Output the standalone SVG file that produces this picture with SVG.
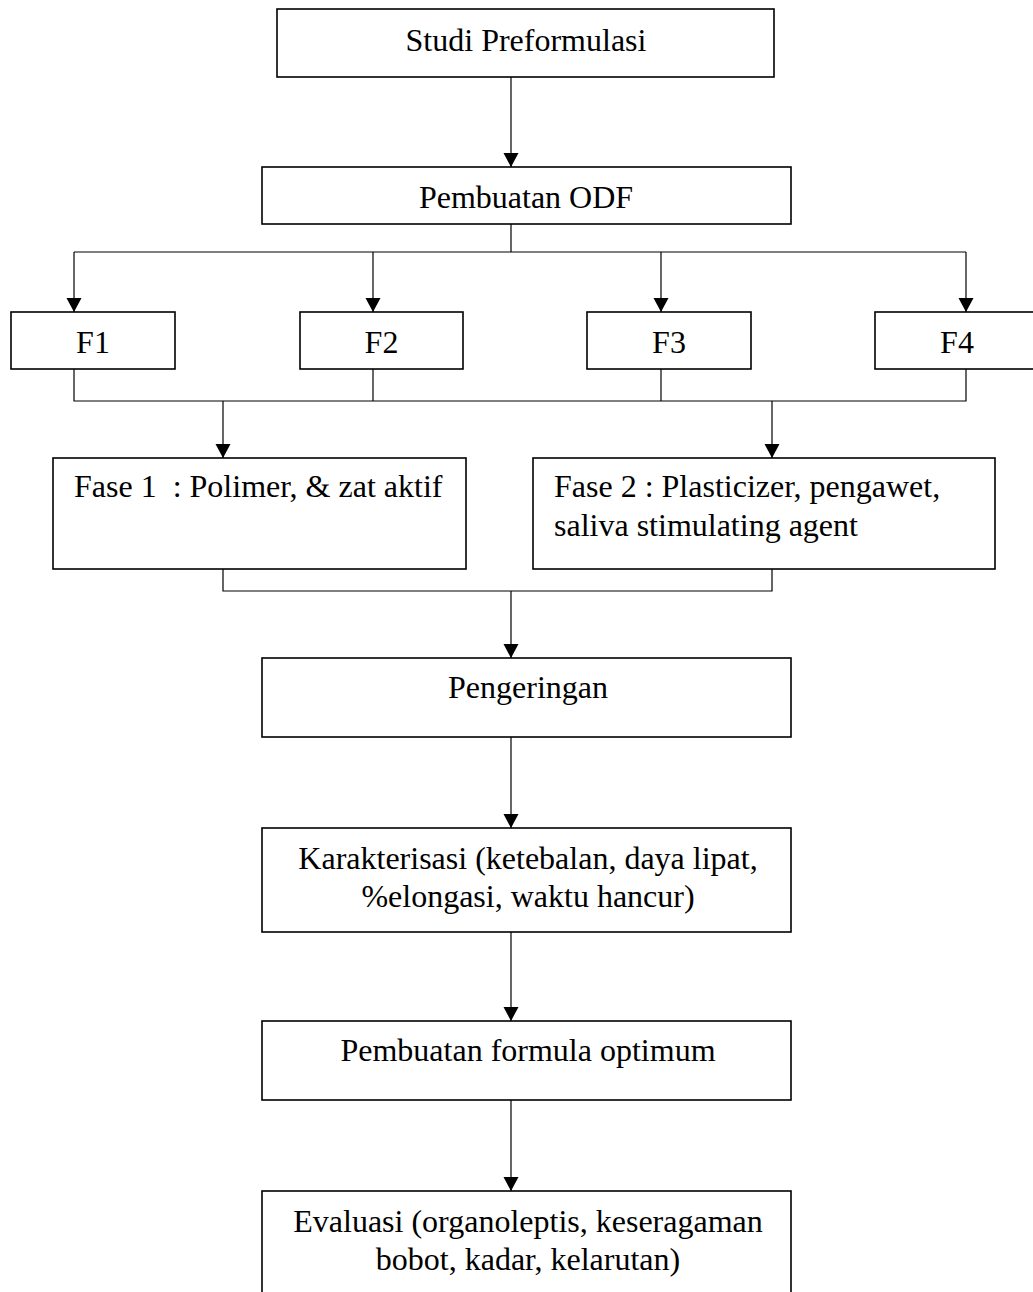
<svg xmlns="http://www.w3.org/2000/svg" width="1033" height="1292" viewBox="0 0 1033 1292">
<style>
.box{fill:#fff;stroke:#000;stroke-width:1.6}
.t{font-family:"Liberation Serif","Times New Roman",serif;font-size:32px;fill:#000}
.c{text-anchor:middle}
.ln{fill:none;stroke:#000;stroke-width:1.2}
</style>
<defs>
<marker id="ah" markerUnits="userSpaceOnUse" markerWidth="16" markerHeight="16" viewBox="0 0 16 16" refX="8" refY="15" orient="auto-start-reverse">
<path d="M0.5,1 L15.5,1 L8,15 Z" fill="#000" transform="rotate(0)"/>
</marker>
<marker id="a" markerUnits="userSpaceOnUse" markerWidth="16" markerHeight="16" viewBox="-8 -15 16 16" refX="0" refY="0" orient="0">
<path d="M-7.5,-14 L7.5,-14 L0,0 Z" fill="#000"/>
</marker>
</defs>
<rect width="1033" height="1292" fill="#fff"/>
<g id="connectors">
<line class="ln" x1="511" y1="77" x2="511" y2="167" marker-end="url(#a)"/>
<polyline class="ln" points="511,224 511,252"/>
<line class="ln" x1="74" y1="252" x2="966" y2="252"/>
<line class="ln" x1="74" y1="252" x2="74" y2="312" marker-end="url(#a)"/>
<line class="ln" x1="373" y1="252" x2="373" y2="312" marker-end="url(#a)"/>
<line class="ln" x1="661" y1="252" x2="661" y2="312" marker-end="url(#a)"/>
<line class="ln" x1="966" y1="252" x2="966" y2="312" marker-end="url(#a)"/>
<polyline class="ln" points="74,369 74,401 966,401 966,369"/>
<line class="ln" x1="373" y1="369" x2="373" y2="401"/>
<line class="ln" x1="661" y1="369" x2="661" y2="401"/>
<line class="ln" x1="223" y1="401" x2="223" y2="458" marker-end="url(#a)"/>
<line class="ln" x1="772" y1="401" x2="772" y2="458" marker-end="url(#a)"/>
<polyline class="ln" points="223,569 223,591 772,591 772,569"/>
<line class="ln" x1="511" y1="591" x2="511" y2="658" marker-end="url(#a)"/>
<line class="ln" x1="511" y1="737" x2="511" y2="828" marker-end="url(#a)"/>
<line class="ln" x1="511" y1="932" x2="511" y2="1021" marker-end="url(#a)"/>
<line class="ln" x1="511" y1="1100" x2="511" y2="1191" marker-end="url(#a)"/>
</g>
<g id="studi">
<rect class="box" x="277" y="9" width="497" height="68"/>
<text class="t c" x="526" y="51">Studi Preformulasi</text>
</g>
<g id="odf">
<rect class="box" x="262" y="167" width="529" height="57"/>
<text class="t c" x="526" y="208">Pembuatan ODF</text>
</g>
<g id="f1">
<rect class="box" x="11" y="312" width="164" height="57"/>
<text class="t c" x="93" y="353">F1</text>
</g>
<g id="f2">
<rect class="box" x="300" y="312" width="163" height="57"/>
<text class="t c" x="381.5" y="353">F2</text>
</g>
<g id="f3">
<rect class="box" x="587" y="312" width="164" height="57"/>
<text class="t c" x="669" y="353">F3</text>
</g>
<g id="f4">
<rect class="box" x="875" y="312" width="164" height="57"/>
<text class="t c" x="957" y="353">F4</text>
</g>
<g id="fase1">
<rect class="box" x="53" y="458" width="413" height="111"/>
<text class="t" x="74" y="497" xml:space="preserve">Fase 1  : Polimer, &amp; zat aktif</text>
</g>
<g id="fase2">
<rect class="box" x="533" y="458" width="462" height="111"/>
<text class="t" x="554" y="497">Fase 2 : Plasticizer, pengawet,</text>
<text class="t" x="554" y="536">saliva stimulating agent</text>
</g>
<g id="pengeringan">
<rect class="box" x="262" y="658" width="529" height="79"/>
<text class="t c" x="528" y="698">Pengeringan</text>
</g>
<g id="karakterisasi">
<rect class="box" x="262" y="828" width="529" height="104"/>
<text class="t c" x="528" y="869">Karakterisasi (ketebalan, daya lipat,</text>
<text class="t c" x="528" y="907">%elongasi, waktu hancur)</text>
</g>
<g id="optimum">
<rect class="box" x="262" y="1021" width="529" height="79"/>
<text class="t c" x="528" y="1061">Pembuatan formula optimum</text>
</g>
<g id="evaluasi">
<rect class="box" x="262" y="1191" width="529" height="120"/>
<text class="t c" x="528" y="1232">Evaluasi (organoleptis, keseragaman</text>
<text class="t c" x="528" y="1270">bobot, kadar, kelarutan)</text>
</g>
</svg>
